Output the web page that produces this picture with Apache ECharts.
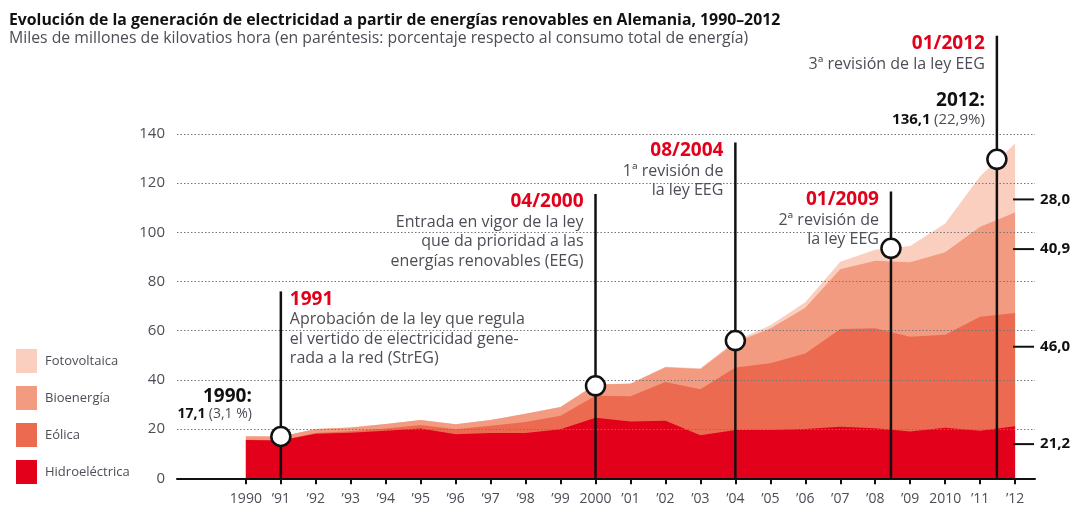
<!DOCTYPE html>
<html><head><meta charset="utf-8">
<script src="https://cdn.jsdelivr.net/npm/echarts@6/dist/echarts.min.js"></script>
<style>html,body{margin:0;padding:0;background:#fff}#c{width:1073px;height:527px}</style>
</head><body><div id="c"></div>
<script>
const years = [1990,1991,1992,1993,1994,1995,1996,1997,1998,1999,2000,2001,2002,2003,2004,2005,2006,2007,2008,2009,2010,2011,2012];
const xTickLabels = ['1990','’91','’92','’93','’94','’95','’96','’97','’98','’99','2000','’01','’02','’03','’04','’05','’06','’07','’08','’09','2010','’11','’12'];
const hydro = [15.6,15.4,18.1,18.5,19.3,20.2,17.9,18.4,18.4,19.9,24.6,23.1,23.4,17.5,19.6,19.6,20.0,21.0,20.4,19.0,20.6,19.3,21.2];
const wind  = [0.1,0.1,0.3,0.6,0.9,1.5,2.0,3.0,4.5,5.5,9.0,10.3,15.8,18.7,25.5,27.2,30.7,39.7,40.6,38.6,37.8,46.4,46.0];
const bio   = [1.4,1.5,1.6,1.6,1.9,2.0,2.1,2.3,3.3,3.6,4.5,5.0,6.0,8.2,10.1,14.1,18.7,24.3,27.5,30.3,33.5,36.6,40.9];
const pv    = [0.0,0.0,0.0,0.0,0.0,0.0,0.0,0.0,0.0,0.0,0.1,0.1,0.2,0.3,0.6,1.3,2.2,3.1,4.4,6.6,11.7,20.5,28.0];
const seriesNames = ['Hidroeléctrica','Eólica','Bioenergía','Fotovoltaica'];

// events (law milestones)
const eventX     = [1991, 2000, 2004, 2008.45, 2011.48];
const eventTop   = [76, 115.6, 136.5, 116.6, 180];
const eventDot   = [17, 37.6, 56, 93.5, 129.7];
const eventTitle = ['1991','04/2000','08/2004','01/2009','01/2012'];
const eventBody  = [
  ['Aprobación de la ley que regula','el vertido de electricidad gene-','rada a la red (StrEG)'],
  ['Entrada en vigor de la ley','que da prioridad a las','energías renovables (EEG)'],
  ['1ª revisión de','la ley EEG'],
  ['2ª revisión de','la ley EEG'],
  ['3ª revisión de la ley EEG']
];
const eventSide = ['right','left','left','left','left'];

// 2012 breakdown labels
const share2012 = ['21,2','46,0','40,9','28,0'];
const shareLabelAt = [13.9, 53.5, 93.2, 113.4];

const colors = ['#e2001a','#ec6a50','#f39b80','#fbcfc0'];
const FONT = 'Open Sans';
const TXT = '#4d4d57';

// cumulative tops of each band (bottom to top)
const layers = [hydro, wind, bio, pv];
const cumul = layers.map((_, k) => years.map((y, i) => {
  let s = 0; for (let j = 0; j <= k; j++) s += layers[j][i]; return +s.toFixed(2);
}));
// draw top band first so lower bands paint over it
const areaSeries = [3, 2, 1, 0].map(k => ({
  name: seriesNames[k], type: 'line',
  data: years.map((y, i) => [y, cumul[k][i]]),
  symbol: 'none', lineStyle: {width: 0}, color: colors[k],
  areaStyle: {color: colors[k], opacity: 1, origin: 'start'}, z: 1, silent: true
}));

const eventSeries = {
  type: 'custom', clip: false, z: 10, silent: true,
  data: eventX.map((x, i) => [x, eventTop[i], eventDot[i], i]),
  renderItem: function (params, api) {
    const i = params.dataIndex;
    const x = api.value(0);
    const p0 = api.coord([x, 0]);
    const pt = api.coord([x, api.value(1)]);
    const pd = api.coord([x, api.value(2)]);
    const right = eventSide[i] === 'right';
    const tx = right ? pt[0] + 9 : pt[0] - 12;
    const align = right ? 'left' : 'right';
    const children = [
      {type: 'line', shape: {x1: p0[0], y1: p0[1], x2: pt[0], y2: pt[1]}, style: {stroke: '#111', lineWidth: 2.5}},
      {type: 'circle', shape: {cx: pd[0], cy: pd[1], r: 9.5}, style: {fill: '#fff', stroke: '#111', lineWidth: 2.5}},
      {type: 'text', style: {text: eventTitle[i], x: tx, y: pt[1] + 8, align: align, verticalAlign: 'middle',
        fill: '#e2001a', fontFamily: FONT, fontWeight: 'bold', fontSize: 19}}
    ];
    eventBody[i].forEach((line, j) => {
      children.push({type: 'text', style: {text: line, x: tx, y: pt[1] + 28.5 + j * 19.4, align: align, verticalAlign: 'middle',
        fill: TXT, fontFamily: FONT, fontSize: 16}});
    });
    if (i === eventX.length - 1) {
      children.push({type: 'text', style: {text: '2012:', x: tx, y: pt[1] + 65, align: align, verticalAlign: 'middle',
        fill: '#111', fontFamily: FONT, fontWeight: 'bold', fontSize: 19}});
      children.push({type: 'text', style: {text: '{b|136,1} {n|(22,9%)}', x: tx, y: pt[1] + 84, align: align, verticalAlign: 'middle',
        rich: {b: {fill: '#111', fontFamily: FONT, fontWeight: 'bold', fontSize: 15}, n: {fill: TXT, fontFamily: FONT, fontSize: 15}}}});
    }
    return {type: 'group', children: children};
  }
};

const startSeries = {
  type: 'custom', clip: false, z: 10, silent: true,
  data: [[years[0], cumul[3][0]]],
  renderItem: function (params, api) {
    const p = api.coord([api.value(0), api.value(1)]);
    return {type: 'group', children: [
      {type: 'text', style: {text: '1990:', x: p[0] + 6, y: p[1] - 40, align: 'right', verticalAlign: 'middle',
        fill: '#111', fontFamily: FONT, fontWeight: 'bold', fontSize: 19}},
      {type: 'text', style: {text: '{b|17,1} {n|(3,1 %)}', x: p[0] + 6, y: p[1] - 22, align: 'right', verticalAlign: 'middle',
        rich: {b: {fill: '#111', fontFamily: FONT, fontWeight: 'bold', fontSize: 14}, n: {fill: TXT, fontFamily: FONT, fontSize: 14}}}}
    ]};
  }
};

const shareSeries = {
  type: 'custom', clip: false, z: 10, silent: true,
  data: share2012.map((s, i) => [years[years.length - 1], shareLabelAt[i], i]),
  renderItem: function (params, api) {
    const p = api.coord([api.value(0), api.value(1)]);
    const i = params.dataIndex;
    return {type: 'group', children: [
      {type: 'line', shape: {x1: p[0] - 2, y1: p[1], x2: p[0] + 19, y2: p[1]}, style: {stroke: '#111', lineWidth: 2}},
      {type: 'text', style: {text: share2012[i], x: p[0] + 25, y: p[1], align: 'left', verticalAlign: 'middle',
        fill: '#111', fontFamily: FONT, fontWeight: 'bold', fontSize: 15}}
    ]};
  }
};

const chart = echarts.init(document.getElementById('c'), null, {renderer: 'canvas'});
chart.setOption({
  animation: false,
  backgroundColor: '#fff',
  textStyle: {fontFamily: FONT},
  title: {
    text: 'Evolución de la generación de electricidad a partir de energías renovables en Alemania, 1990–2012',
    subtext: 'Miles de millones de kilovatios hora (en paréntesis: porcentaje respecto al consumo total de energía)',
    left: 9, top: 11, itemGap: 0, padding: 0,
    textStyle: {fontFamily: FONT, fontSize: 15.8, fontWeight: 'bold', color: '#111', lineHeight: 18},
    subtextStyle: {fontFamily: FONT, fontSize: 15.8, color: TXT, lineHeight: 18}
  },
  legend: {
    orient: 'vertical', left: 11, top: 344, itemWidth: 21, itemHeight: 24, itemGap: 13,
    icon: 'rect', data: ['Fotovoltaica','Bioenergía','Eólica','Hidroeléctrica'],
    textStyle: {fontFamily: FONT, fontSize: 13, color: TXT, padding: [0, 0, 0, 3]},
    selectedMode: false
  },
  grid: {left: 177, right: 38, top: 134, bottom: 48.7},
  xAxis: {
    type: 'value', min: 1988.03, max: 2012.57, z: 4,
    splitLine: {show: false},
    axisLine: {lineStyle: {color: '#111', width: 2}},
    axisTick: {customValues: years, length: 6, lineStyle: {color: '#111', width: 2}},
    axisLabel: {customValues: years, formatter: v => xTickLabels[years.indexOf(Math.round(v))] || '',
      fontFamily: FONT, fontSize: 14, color: TXT, margin: 14}
  },
  yAxis: {
    type: 'value', min: 0, max: 140, interval: 20, z: 3,
    axisLine: {show: false}, axisTick: {show: false},
    axisLabel: {fontFamily: FONT, fontSize: 15, color: TXT, margin: 12},
    splitLine: {lineStyle: {color: '#777', type: [1.5, 2], width: 1}}
  },
  series: [...areaSeries, eventSeries, startSeries, shareSeries]
});
</script></body></html>
